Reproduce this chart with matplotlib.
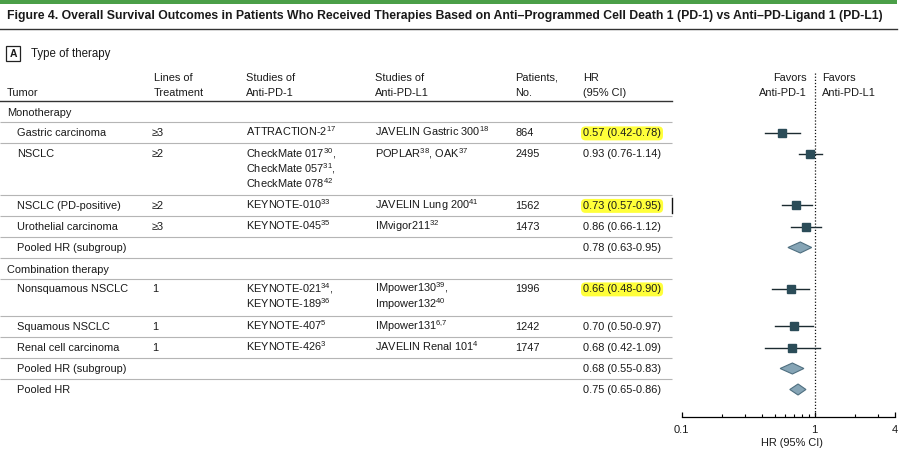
import matplotlib
matplotlib.use("Agg")
import matplotlib.pyplot as plt
from matplotlib import font_manager
from matplotlib.patches import Polygon, Rectangle
from matplotlib.ticker import FixedLocator, NullFormatter

# ---- data -------------------------------------------------------------
TITLE = ("Figure 4. Overall Survival Outcomes in Patients Who Received Therapies "
         "Based on Anti\u2013Programmed Cell Death 1 (PD-1) vs Anti\u2013PD-Ligand 1 (PD-L1)")

SECTIONS = ["Monotherapy", "Combination therapy"]
tumors = ["Gastric carcinoma", "NSCLC", "NSCLC (PD-positive)", "Urothelial carcinoma",
          "Pooled HR (subgroup)", "Nonsquamous NSCLC", "Squamous NSCLC",
          "Renal cell carcinoma", "Pooled HR (subgroup)", "Pooled HR"]
lines_of_tx = ["\u22653", "\u22652", "\u22652", "\u22653", "", "1", "1", "1", "", ""]
pd1_studies = [
    ["ATTRACTION-2$^{17}$"],
    ["CheckMate 017$^{30}$,", "CheckMate 057$^{31}$,", "CheckMate 078$^{42}$"],
    ["KEYNOTE-010$^{33}$"],
    ["KEYNOTE-045$^{35}$"],
    [],
    ["KEYNOTE-021$^{34}$,", "KEYNOTE-189$^{36}$"],
    ["KEYNOTE-407$^{5}$"],
    ["KEYNOTE-426$^{3}$"],
    [],
    [],
]
pdl1_studies = [
    ["JAVELIN Gastric 300$^{18}$"],
    ["POPLAR$^{38}$, OAK$^{37}$"],
    ["JAVELIN Lung 200$^{41}$"],
    ["IMvigor211$^{32}$"],
    [],
    ["IMpower130$^{39}$,", "Impower132$^{40}$"],
    ["IMpower131$^{6,\\!\\!7}$"],
    ["JAVELIN Renal 101$^{4}$"],
    [],
    [],
]
patients = ["864", "2495", "1562", "1473", "", "1996", "1242", "1747", "", ""]
hr = [0.57, 0.93, 0.73, 0.86, 0.78, 0.66, 0.70, 0.68, 0.68, 0.75]
ci_low = [0.42, 0.76, 0.57, 0.66, 0.63, 0.48, 0.50, 0.42, 0.55, 0.65]
ci_high = [0.78, 1.14, 0.95, 1.12, 0.95, 0.90, 0.97, 1.09, 0.83, 0.86]
highlighted = [True, False, True, False, False, True, False, False, False, False]
is_pooled = [False, False, False, False, True, False, False, False, True, True]

X_MAJOR = [0.1, 1, 4]
X_MAJOR_LABELS = ["0.1", "1", "4"]
X_MINOR = [0.2, 0.3, 0.4, 0.5, 0.6, 0.7, 0.8, 0.9, 2, 3]

# ---- layout (pixel coordinates of the 908x462 canvas) -------------------
W, H = 908, 462
ROW_Y = [132.5, 153.5, 205, 226.5, 247.5, 288.5, 326, 347.5, 368.5, 389.5]
SECTION_Y = [112, 269]
SEP_Y = [122, 143, 194.5, 215.5, 237, 258, 279, 316, 337, 358, 379]
LINE_STEP = 15.3
BASE = 3.9  # baseline offset from visual centre
COL_X = {"tumor": 17, "lines": 152, "pd1": 246, "pdl1": 375, "pts": 515, "hr": 583}
PLOT_X0, PLOT_X1 = 681.7, 894.7
PLOT_TOP, PLOT_BOTTOM = 73, 417

TEXT = "#1a1a1a"
SQUARE = "#2b4c58"
DIAMOND_FC = "#86a5b6"
DIAMOND_EC = "#4f6f80"

installed = {f.name for f in font_manager.fontManager.ttflist}
BODY_FONT = "Liberation Sans"
TITLE_FONT = "Liberation Sans Narrow" if "Liberation Sans Narrow" in installed else BODY_FONT

plt.rcParams.update({
    "font.family": BODY_FONT,
    "mathtext.fontset": "custom",
    "mathtext.rm": BODY_FONT,
    "mathtext.it": BODY_FONT + ":italic",
    "mathtext.bf": BODY_FONT + ":bold",
    "text.color": TEXT,
})

FS = 7.9

fig = plt.figure(figsize=(W / 100, H / 100), dpi=100)
ax = fig.add_axes([0, 0, 1, 1])
ax.set_xlim(0, W)
ax.set_ylim(H, 0)
ax.axis("off")


def put(x, y, s, **kw):
    kw.setdefault("fontsize", FS)
    kw.setdefault("va", "baseline")
    return ax.text(x, y + BASE, s, **kw)


# title block
ax.add_patch(Rectangle((0, 0), 897, 3.5, color="#4b9f48", lw=0))
title = ax.text(7, 19.5, TITLE, fontsize=10, fontweight="bold", family=TITLE_FONT,
                va="baseline", color="#1a1a1a")
fig.canvas.draw()
tw = title.get_window_extent().width
title.set_fontsize(10 * 872 / tw)
ax.plot([0, 897], [28.5, 28.5], color="#333333", lw=1.0)

# panel label
ax.add_patch(Rectangle((6, 46), 14, 15, fill=False, ec="#222222", lw=0.9))
ax.text(13, 53.8, "A", fontsize=7.5, fontweight="bold", ha="center", va="center")
put(31, 53.5, "Type of therapy", fontsize=8.3)

# header
put(7, 92, "Tumor")
for key, (l1, l2) in {"lines": ("Lines of", "Treatment"),
                      "pd1": ("Studies of", "Anti-PD-1"),
                      "pdl1": ("Studies of", "Anti-PD-L1"),
                      "pts": ("Patients,", "No."),
                      "hr": ("HR", "(95% CI)")}.items():
    x = COL_X[key] + (2 if key == "lines" else 0)
    put(x, 77, l1)
    put(x, 92, l2)
put(807, 77, "Favors", ha="right")
put(807, 92, "Anti-PD-1", ha="right")
put(822, 77, "Favors")
put(822, 92, "Anti-PD-L1")
ax.plot([0, 672], [101, 101], color="#333333", lw=1.0)

# table rows
for s, y in zip(SECTIONS, SECTION_Y):
    put(7, y, s)
ax.hlines(SEP_Y, 0, 672, color="#b5b5b5", lw=0.8)

for i, y in enumerate(ROW_Y):
    put(COL_X["tumor"], y, tumors[i])
    put(COL_X["lines"], y, lines_of_tx[i])
    for k, s in enumerate(pd1_studies[i]):
        put(COL_X["pd1"], y + k * LINE_STEP, s)
    for k, s in enumerate(pdl1_studies[i]):
        put(COL_X["pdl1"], y + k * LINE_STEP, s)
    put(COL_X["pts"], y, patients[i])
    label = f"{hr[i]:.2f} ({ci_low[i]:.2f}-{ci_high[i]:.2f})"
    if highlighted[i]:
        put(COL_X["hr"], y, label,
            bbox=dict(boxstyle="round,pad=0.18,rounding_size=0.4", fc="#ffff3a", ec="none"))
    else:
        put(COL_X["hr"], y, label)

# text cursor left in the original
ax.plot([672, 672], [197.5, 213], color="#111111", lw=1.0)

# forest plot
fx = fig.add_axes([PLOT_X0 / W, (H - PLOT_BOTTOM) / H,
                   (PLOT_X1 - PLOT_X0) / W, (PLOT_BOTTOM - PLOT_TOP) / H])
fx.set_xscale("log")
fx.set_xlim(X_MAJOR[0], X_MAJOR[-1])
fx.set_ylim(PLOT_BOTTOM, PLOT_TOP)
fx.patch.set_alpha(0)
for side in ("top", "right", "left"):
    fx.spines[side].set_visible(False)
fx.spines["bottom"].set_linewidth(0.9)
fx.set_yticks([])
fx.xaxis.set_major_locator(FixedLocator(X_MAJOR))
fx.set_xticklabels(X_MAJOR_LABELS)
fx.xaxis.set_minor_locator(FixedLocator(X_MINOR))
fx.xaxis.set_minor_formatter(NullFormatter())
fx.tick_params(axis="x", which="major", direction="in", length=3.5, width=0.9,
               pad=6, labelsize=8, labelcolor=TEXT)
fx.tick_params(axis="x", which="minor", direction="in", length=2.3, width=0.8)

fx.plot([1, 1], [PLOT_TOP, PLOT_BOTTOM], color="#111111", lw=0.9, ls=(0, (1, 1.5)),
        clip_on=False)

for i, y in enumerate(ROW_Y):
    if is_pooled[i]:
        fx.add_patch(Polygon([(ci_low[i], y), (hr[i], y - 5.5), (ci_high[i], y), (hr[i], y + 5.5)],
                             closed=True, fc=DIAMOND_FC, ec=DIAMOND_EC, lw=0.8, zorder=3))
    else:
        fx.plot([ci_low[i], ci_high[i]], [y, y], color="#1c2b31", lw=1.0, zorder=2)
        fx.plot(hr[i], y, marker="s", ms=5.2, color=SQUARE, mec=SQUARE, zorder=3)

ax.text((PLOT_X0 + PLOT_X1) / 2 + 4, 445.5, "HR (95% CI)", fontsize=FS, ha="center",
        va="baseline")

fig.savefig("out.png", dpi=100)
